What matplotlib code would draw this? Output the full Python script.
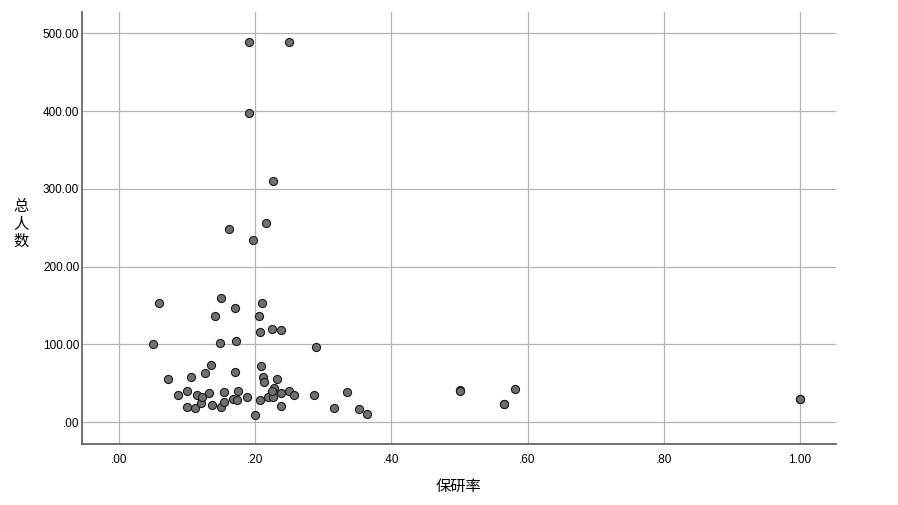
import matplotlib
matplotlib.use('Agg')
import matplotlib.pyplot as plt

plt.rcParams['font.family'] = ['Liberation Sans', 'DejaVu Sans']

# 保研率 (x) and 总人数 (y)
rate = [0.190, 0.249, 0.191, 0.226, 0.215, 0.161, 0.197,
        0.059, 0.150, 0.170, 0.141, 0.050, 0.148, 0.172, 0.209, 0.205,
        0.207, 0.225, 0.237, 0.289,
        0.072, 0.086, 0.100, 0.100, 0.105, 0.111, 0.114, 0.120, 0.122,
        0.126, 0.132, 0.135, 0.136, 0.150, 0.154, 0.154, 0.167, 0.170,
        0.173, 0.175, 0.187, 0.200, 0.207, 0.208, 0.211, 0.212, 0.219,
        0.226, 0.227, 0.225, 0.232, 0.238, 0.238, 0.250, 0.257, 0.286,
        0.316, 0.334, 0.353, 0.364,
        0.500, 0.500, 0.565, 0.565, 0.582, 1.000, 1.000]
total = [489, 489, 398, 310, 256, 249, 234,
         153, 160, 147, 136, 100, 102, 105, 153, 137,
         116, 120, 118, 97,
         56, 35, 40, 20, 58, 18, 35, 25, 33,
         64, 38, 74, 22, 20, 39, 26, 30, 65,
         29, 40, 32, 10, 29, 72, 58, 52, 32,
         32, 44, 40, 56, 38, 21, 40, 35, 35,
         19, 39, 17, 11,
         42, 40, 23, 23, 43, 30, 30]

xticks = [0.0, 0.2, 0.4, 0.6, 0.8, 1.0]
xtick_labels = ['.00', '.20', '.40', '.60', '.80', '1.00']
yticks = [0, 100, 200, 300, 400, 500]
ytick_labels = ['.00', '100.00', '200.00', '300.00', '400.00', '500.00']

fig = plt.figure(figsize=(8.98, 5.05), dpi=100)
ax = fig.add_axes([82 / 898, 1 - 444 / 505, (836 - 82) / 898, (444 - 12) / 505])

ax.scatter(rate, total, s=34, facecolor='#707070', edgecolor='#1a1a1a',
           linewidth=0.8, zorder=3)

ax.set_xlim(-0.0548, 1.0533)
ax.set_ylim(-27.9, 527.4)

ax.set_xticks(xticks)
ax.set_xticklabels(xtick_labels)
ax.set_yticks(yticks)
ax.set_yticklabels(ytick_labels)
ax.tick_params(axis='both', length=0, labelsize=8.5, colors='#000000')
ax.tick_params(axis='x', pad=7)
ax.tick_params(axis='y', pad=2)

ax.grid(True, color='#b4b4b4', linewidth=0.9, zorder=0)
ax.set_axisbelow(True)

for side in ['top', 'right']:
    ax.spines[side].set_visible(False)
for side in ['left', 'bottom']:
    ax.spines[side].set_color('#666666')
    ax.spines[side].set_linewidth(1.3)

cjk = ['Noto Sans CJK SC', 'DejaVu Sans']
fig.text(459 / 898, 1 - 486 / 505, '保研率', family=cjk, fontsize=11,
         ha='center', va='center')
fig.text(21 / 898, 1 - 224 / 505, '总\n人\n数', family=cjk, fontsize=11,
         ha='center', va='center', linespacing=1.0)

fig.savefig('out.png', dpi=100)
